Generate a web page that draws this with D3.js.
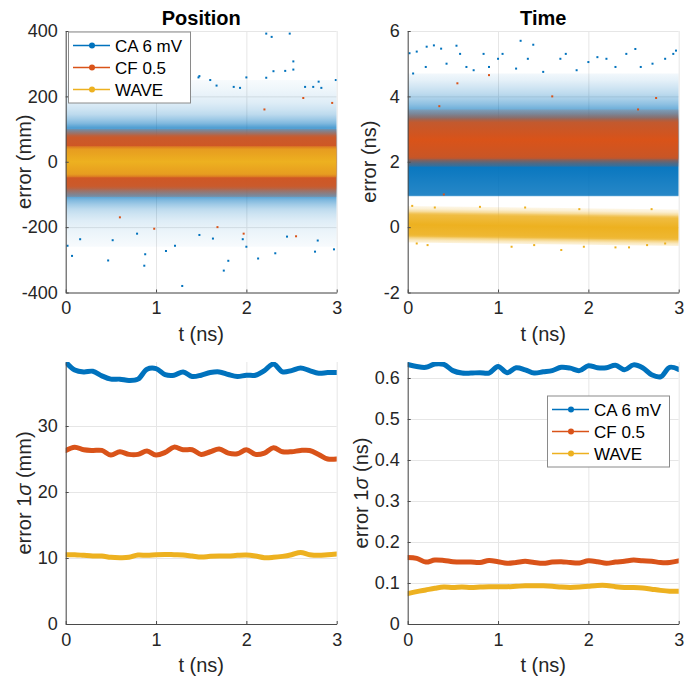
<!DOCTYPE html>
<html lang="en">
<head>
<meta charset="utf-8">
<title>Position and time error</title>
<script src="https://cdn.jsdelivr.net/npm/d3@7"></script>
<style>
  body { margin: 0; background: white; }
  svg { display: block; background: white; font-family: "Liberation Sans", Arial, Helvetica, sans-serif; }
</style>
</head>
<body>
<script>

// ---- data ----
var seriesNames = ["CA 6 mV", "CF 0.5", "WAVE"];
var seriesColors = ["#0072BD", "#D95319", "#EDB120"];
var tTicks = [0, 1, 2, 3];

// scatter clouds as density bands: [low, high, density]
var posCA = [[-260, -200, 0.06], [-200, -160, 0.13], [-160, -130, 0.26], [-130, -105, 0.5], [-105, 105, 0.85],
             [105, 130, 0.5], [130, 160, 0.26], [160, 200, 0.13], [200, 250, 0.06]];
var posCF = [[-108, -88, 0.4], [-88, -74, 0.8], [-74, 74, 1], [74, 86, 0.8], [86, 100, 0.4]];
var posWAVE = [[-48, -38, 0.55], [-38, 38, 1], [38, 48, 0.55]];

var timeCA = [[0.94, 0.98, 0.7], [0.98, 3.3, 1], [3.3, 3.6, 0.7], [3.6, 3.9, 0.45], [3.9, 4.3, 0.25], [4.3, 4.7, 0.1]];
var timeCF = [[1.85, 2.05, 0.35], [2.05, 2.15, 0.85], [2.15, 3.2, 1], [3.2, 3.35, 0.75], [3.35, 3.6, 0.3]];
var timeWAVE = [[-0.5, -0.35, 0.3], [-0.35, -0.25, 0.85], [-0.25, 0.35, 1], [0.35, 0.45, 0.7], [0.45, 0.62, 0.2]];
var timeWAVEDrift = [0.03, -0.08]; // band centre shift at t=0 and t=3

// sparse points outside the bands: [t, error]
var posCAOut = [[2.22, 392], [2.28, 382], [2.48, 392], [2.52, 307], [2.52, 282], [2.43, 278], [2.3, 277],
  [1.48, 262], [1.47, 258], [1.34, 268], [2.99, 250], [2.0, 258], [2.8, 245], [2.22, 257], [1.6, 250],
  [1.32, 250], [1.0, 248], [1.08, 255], [1.67, 233], [1.86, 229], [2.65, 229], [2.74, 229], [2.83, 226],
  [1.93, 226], [0.69, 235], [0.38, 233], [0.1, 245],
  [1.29, -380], [1.75, -333], [1.8, -303], [0.87, -318], [0.47, -302], [0.02, -257], [0.07, -288],
  [0.88, -283], [2.13, -296], [2.76, -275], [2.97, -268], [2.32, -280], [1.11, -273], [0.16, -237],
  [1.21, -257], [1.96, -237], [2.0, -260], [2.79, -241], [2.45, -229], [1.63, -235], [0.52, -240],
  [0.79, -220], [1.48, -224]];
var posCFOut = [[1.97, -220], [2.55, -228], [0.98, -205], [1.68, -200], [2.63, 195], [1.02, 185],
  [0.35, 190], [2.95, 180], [0.6, -170], [2.2, 160]];

var timeCAOut = [[0.02, 5.32], [0.1, 5.37], [0.21, 5.52], [0.29, 5.56], [0.37, 5.46], [0.06, 4.7],
  [0.2, 4.9], [0.54, 5.55], [0.58, 5.3], [0.84, 5.3], [0.9, 4.9], [1.05, 5.3], [1.0, 5.15], [1.25, 5.7],
  [1.39, 5.58], [1.33, 5.15], [1.69, 5.15], [1.75, 5.3], [2.0, 5.05], [2.1, 5.2], [2.2, 5.15],
  [2.42, 5.3], [2.52, 5.45], [2.58, 4.9], [2.71, 5.0], [2.85, 5.15], [2.94, 5.3], [2.97, 5.4],
  [0.43, 5.0], [0.73, 4.8], [1.5, 4.75], [1.87, 4.8], [1.2, 4.85], [2.3, 4.9], [0.65, 4.9]];
var timeCFOut = [[0.55, 4.4], [0.9, 4.65], [1.6, 4.0], [2.75, 3.95], [0.35, 3.7], [2.55, 3.6], [0.4, 1.0]];
var timeWAVEOut = [[0.05, 0.65], [0.3, 0.6], [0.1, -0.5], [0.22, -0.55], [1.15, -0.6], [1.4, -0.55],
  [1.7, -0.7], [1.95, -0.6], [2.3, -0.62], [2.45, -0.62], [2.65, -0.55], [2.85, -0.5], [2.7, 0.55],
  [1.9, 0.55], [0.8, 0.62], [1.3, 0.6]];

// 1-sigma curves, one value every 0.1 ns from 0 to 3
var sigmaT = d3.range(31).map(function(i) { return i / 10; });
var sigPosCA = [39.7, 38.5, 38.2, 38.3, 37.6, 37.1, 37.1, 36.9, 37.1, 38.6, 38.7, 37.8, 37.7, 38.2, 37.5, 37.7,
                38.1, 38.2, 37.8, 37.5, 37.7, 37.7, 38.4, 39.4, 38.2, 38.4, 38.8, 38.4, 38.0, 38.1, 38.1];
var sigPosCF = [26.3, 26.8, 26.4, 26.3, 26.3, 25.6, 26.1, 25.7, 25.7, 26.2, 25.6, 26.0, 26.8, 26.4, 26.4, 25.7,
                26.1, 26.5, 25.9, 25.8, 26.4, 25.7, 25.9, 26.7, 26.1, 26.1, 26.3, 26.3, 25.7, 25.0, 25.0];
var sigPosWAVE = [10.5, 10.5, 10.4, 10.3, 10.3, 10.1, 10.05, 10.1, 10.45, 10.4, 10.5, 10.55, 10.5, 10.45, 10.3, 10.15,
                  10.25, 10.3, 10.3, 10.4, 10.45, 10.3, 10.05, 10.1, 10.25, 10.5, 10.85, 10.5, 10.4, 10.5, 10.6];
var sigTimeCA = [0.633, 0.628, 0.626, 0.634, 0.633, 0.618, 0.612, 0.612, 0.613, 0.612, 0.628, 0.613, 0.625, 0.620,
                 0.612, 0.615, 0.618, 0.626, 0.624, 0.618, 0.630, 0.625, 0.625, 0.631, 0.620, 0.632, 0.625, 0.608,
                 0.603, 0.626, 0.621];
var sigTimeCF = [0.162, 0.160, 0.151, 0.156, 0.155, 0.152, 0.151, 0.151, 0.150, 0.155, 0.152, 0.148, 0.150, 0.153,
                 0.150, 0.148, 0.151, 0.152, 0.150, 0.149, 0.154, 0.152, 0.148, 0.151, 0.153, 0.156, 0.154, 0.153,
                 0.150, 0.150, 0.154];
var sigTimeWAVE = [0.074, 0.079, 0.083, 0.087, 0.090, 0.089, 0.090, 0.089, 0.090, 0.091, 0.091, 0.091, 0.092, 0.093,
                   0.093, 0.093, 0.092, 0.090, 0.089, 0.090, 0.092, 0.094, 0.094, 0.091, 0.089, 0.089, 0.088, 0.085,
                   0.082, 0.080, 0.080];

var posTicks = [-400, -200, 0, 200, 400];
var timeTicks = [-2, 0, 2, 4, 6];
var sigPosTicks = [0, 10, 20, 30];
var sigTimeTicks = [0, 0.1, 0.2, 0.3, 0.4, 0.5, 0.6];

// ---- drawing ----
var svg = d3.select("body").append("svg").attr("width", 699).attr("height", 682);
var defs = svg.append("defs");
var textCol = "#262626";
var uid = 0;

function panel(box, yDomain, yTicks, yFmt) {
  var x = d3.scaleLinear().domain([0, 3]).range([box.l, box.r]);
  var y = d3.scaleLinear().domain(yDomain).range([box.b, box.t]);
  var g = svg.append("g");

  // grid
  g.append("g").attr("transform", "translate(0," + box.b + ")")
    .call(d3.axisBottom(x).tickValues(tTicks).tickSize(-(box.b - box.t)).tickFormat(""))
    .call(function(s) { s.select(".domain").remove(); s.selectAll("line").attr("stroke", "#e6e6e6"); });
  g.append("g").attr("transform", "translate(" + box.l + ",0)")
    .call(d3.axisLeft(y).tickValues(yTicks).tickSize(-(box.r - box.l)).tickFormat(""))
    .call(function(s) { s.select(".domain").remove(); s.selectAll("line").attr("stroke", "#e6e6e6"); });

  uid++;
  defs.append("clipPath").attr("id", "clip" + uid).append("rect")
    .attr("x", box.l).attr("y", box.t).attr("width", box.r - box.l).attr("height", box.b - box.t);
  var plot = svg.append("g").attr("clip-path", "url(#clip" + uid + ")");

  var axes = svg.append("g");
  axes.append("g").attr("transform", "translate(0," + box.b + ")")
    .call(d3.axisBottom(x).tickValues(tTicks).tickSizeInner(-3).tickSizeOuter(0).tickPadding(9)
      .tickFormat(function(d) { return String(d); }))
    .call(styleAxis);
  axes.append("g").attr("transform", "translate(" + box.l + ",0)")
    .call(d3.axisLeft(y).tickValues(yTicks).tickSizeInner(-3).tickSizeOuter(0).tickPadding(8).tickFormat(yFmt))
    .call(styleAxis);

  return { x: x, y: y, plot: plot, box: box };
}

function styleAxis(s) {
  s.select(".domain").attr("stroke", "#4a4a4a").attr("stroke-width", 1);
  s.selectAll(".tick line").attr("stroke", "#4a4a4a");
  s.selectAll("text").attr("fill", textCol).attr("font-size", 18)
    .attr("font-family", "'Liberation Sans', Arial, Helvetica, sans-serif");
}

// a scatter cloud drawn as a vertical density gradient built from the bands
function cloud(p, data, color, drift) {
  drift = drift || [0, 0];
  var lo = data[0][0], hi = data[data.length - 1][1];
  var y1 = p.y(lo), y2 = p.y(hi);
  var stops = [[lo, data[0][2] / 2]];
  data.forEach(function(b, i) {
    stops.push([(b[0] + b[1]) / 2, b[2]]);
    var next = data[i + 1];
    stops.push([b[1], next ? (b[2] + next[2]) / 2 : b[2] / 2]);
  });
  uid++;
  var grad = defs.append("linearGradient").attr("id", "grad" + uid)
    .attr("gradientUnits", "userSpaceOnUse").attr("x1", 0).attr("x2", 0).attr("y1", y1).attr("y2", y2);
  stops.forEach(function(s) {
    grad.append("stop").attr("offset", (p.y(s[0]) - y1) / (y2 - y1))
      .attr("stop-color", color).attr("stop-opacity", s[1]);
  });
  var off0 = p.y(drift[0]) - p.y(0), off3 = p.y(drift[1]) - p.y(0);
  var k = (off3 - off0) / (p.x(3) - p.x(0));
  p.plot.append("rect")
    .attr("x", p.x(0)).attr("width", p.x(3) - p.x(0))
    .attr("y", y2).attr("height", y1 - y2)
    .attr("transform", "matrix(1," + k + ",0,1,0," + (off0 - k * p.x(0)) + ")")
    .attr("fill", "url(#grad" + uid + ")");
}

function dots(p, data, color) {
  p.plot.append("g").selectAll("rect").data(data).enter().append("rect")
    .attr("x", function(d) { return p.x(d[0]) - 1; })
    .attr("y", function(d) { return p.y(d[1]) - 1; })
    .attr("width", 2).attr("height", 2).attr("fill", color);
}

function curve(p, values, color) {
  var line = d3.line().x(function(d, i) { return p.x(sigmaT[i]); }).y(function(d) { return p.y(d); })
    .curve(d3.curveCatmullRom);
  p.plot.append("path").datum(values).attr("d", line).attr("fill", "none")
    .attr("stroke", color).attr("stroke-width", 5).attr("stroke-linecap", "round").attr("stroke-linejoin", "round");
}

function labels(p, title, xLab, yLab, yLabX) {
  var cx = (p.box.l + p.box.r) / 2, cy = (p.box.t + p.box.b) / 2;
  if (title) {
    svg.append("text").attr("x", cx).attr("y", 25).attr("text-anchor", "middle")
      .attr("font-size", 20).attr("font-weight", "bold").attr("fill", "#000").text(title);
  }
  svg.append("text").attr("x", cx).attr("y", p.box.b + 48).attr("text-anchor", "middle")
    .attr("font-size", 20).attr("fill", textCol).text(xLab);
  var t = svg.append("text").attr("transform", "translate(" + yLabX + "," + cy + ") rotate(-90)")
    .attr("text-anchor", "middle").attr("font-size", 20).attr("fill", textCol);
  yLab.forEach(function(part) {
    t.append("tspan").attr("font-style", part[1] ? "italic" : null).text(part[0]);
  });
}

function legend(lx, ly) {
  var g = svg.append("g").attr("transform", "translate(" + lx + "," + ly + ")");
  g.append("rect").attr("x", 0.5).attr("y", 0.5).attr("width", 122).attr("height", 71)
    .attr("fill", "white").attr("stroke", "#8a8a8a").attr("stroke-width", 1);
  seriesNames.forEach(function(name, i) {
    var yy = 14 + i * 22;
    g.append("line").attr("x1", 5).attr("x2", 42).attr("y1", yy).attr("y2", yy)
      .attr("stroke", seriesColors[i]).attr("stroke-width", 1.5);
    g.append("circle").attr("cx", 24).attr("cy", yy).attr("r", 3).attr("fill", seriesColors[i]);
    g.append("text").attr("x", 47).attr("y", yy).attr("dy", "0.36em").attr("font-size", 17)
      .attr("fill", "#000").text(name);
  });
}

var intFmt = function(d) { return String(d); };
var decFmt = function(d) { return d === 0 ? "0" : d3.format(".1f")(d); };

// Position scatter
var p1 = panel({ l: 65.7, r: 336.7, t: 31, b: 292.5 }, [-400, 400], posTicks, intFmt);
cloud(p1, posCA, seriesColors[0]);
dots(p1, posCAOut, seriesColors[0]);
cloud(p1, posCF, seriesColors[1]);
dots(p1, posCFOut, seriesColors[1]);
cloud(p1, posWAVE, seriesColors[2]);
labels(p1, "Position", "t (ns)", [["error (mm)"]], 31);

// Time scatter
var p2 = panel({ l: 407.7, r: 678.7, t: 31, b: 292.5 }, [-2, 6], timeTicks, intFmt);
cloud(p2, timeCA, seriesColors[0]);
dots(p2, timeCAOut, seriesColors[0]);
cloud(p2, timeCF, seriesColors[1]);
dots(p2, timeCFOut, seriesColors[1]);
cloud(p2, timeWAVE, seriesColors[2], timeWAVEDrift);
dots(p2, timeWAVEOut, seriesColors[2]);
labels(p2, "Time", "t (ns)", [["error (ns)"]], 376);

// Position sigma
var p3 = panel({ l: 65.7, r: 336.7, t: 362, b: 624 }, [0, 39.7], sigPosTicks, intFmt);
curve(p3, sigPosCA, seriesColors[0]);
curve(p3, sigPosCF, seriesColors[1]);
curve(p3, sigPosWAVE, seriesColors[2]);
labels(p3, null, "t (ns)", [["error 1"], ["σ", true], [" (mm)"]], 31);

// Time sigma
var p4 = panel({ l: 407.7, r: 678.7, t: 362, b: 624 }, [0, 0.639], sigTimeTicks, decFmt);
curve(p4, sigTimeCA, seriesColors[0]);
curve(p4, sigTimeCF, seriesColors[1]);
curve(p4, sigTimeWAVE, seriesColors[2]);
labels(p4, null, "t (ns)", [["error 1"], ["σ", true], [" (ns)"]], 368);

legend(68, 31.5);
legend(547, 395.5);

</script>
</body>
</html>
